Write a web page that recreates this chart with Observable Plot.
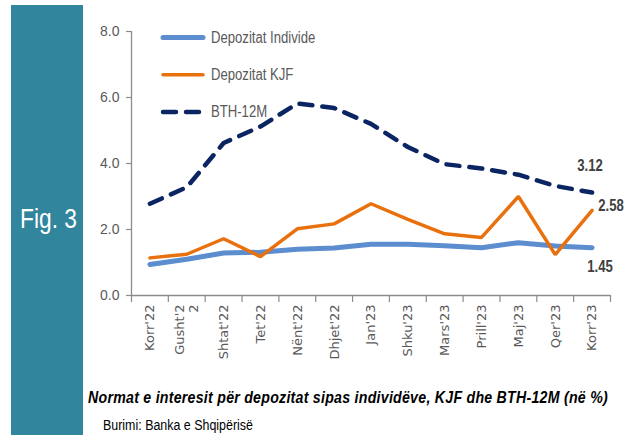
<!DOCTYPE html>
<html><head><meta charset="utf-8">
<script src="https://cdn.jsdelivr.net/npm/d3@7"></script>
<script src="https://cdn.jsdelivr.net/npm/@observablehq/plot@0.6"></script>
<style>
body{margin:0;background:#fff;}
#wrap{position:relative;width:632px;height:435px;overflow:hidden;font-family:"Liberation Sans",Arial,sans-serif;}
#chart{position:absolute;left:0;top:0;}
#panel{position:absolute;left:11px;top:5px;width:72px;height:430px;background:#31859c;}
.fit{position:absolute;white-space:nowrap;transform-origin:0 0;line-height:1;}
#fig{color:#fff;font-size:27px;}
#caption{font-weight:bold;font-style:italic;font-size:16.5px;color:#000;letter-spacing:0.3px;}
#source{font-size:14px;color:#000;}
#legend{position:absolute;left:0;top:0;}
</style></head>
<body>
<div id="wrap">
  <div id="chart"></div>
  <div id="panel"></div>
  <div id="fig" class="fit">Fig. 3</div>
  <div id="caption" class="fit">Normat e interesit për depozitat sipas individëve, KJF dhe BTH-12M (në %)</div>
  <div id="source" class="fit">Burimi: Banka e Shqipërisë</div>
</div>
<script>
const months = ["Korr'22","Gusht'2\n2","Shtat'22","Tet'22","Nënt'22","Dhjet'22","Jan'23","Shku'23","Mars'23","Prill'23","Maj'23","Qer'23","Korr'23"];
const individe = [0.94,1.10,1.29,1.31,1.40,1.44,1.55,1.55,1.51,1.45,1.60,1.50,1.45];
const kjf = [1.14,1.25,1.72,1.18,2.02,2.17,2.78,2.31,1.87,1.76,3.00,1.24,2.58];
const bth = [2.78,3.28,4.62,5.12,5.82,5.68,5.20,4.50,3.98,3.85,3.66,3.32,3.12];
const yTicks = [0,2,4,6,8];
const seriesNames = ["Depozitat Individe","Depozitat KJF","BTH-12M"];
const seriesColors = ["#5b8dcf","#e8710e","#0b2462"];
const endLabels = ["1.45","2.58","3.12"];

const SANS = "'Liberation Sans',Arial,sans-serif";
const seriesVals = [individe, kjf, bth];
const rows = seriesVals.flatMap((vals, s) => vals.map((v, i) => ({i, v, s})));
const idx = months.map((_, i) => i);
const bounds = d3.range(months.length + 1).map(i => i - 0.5);
const last = months.length - 1;
const ends = seriesVals.map((vals, s) => ({i: last, v: vals[last], s, label: endLabels[s]}));

const chart = Plot.plot({
  width: 632, height: 380,
  marginLeft: 131, marginRight: 22, marginTop: 31, marginBottom: 85,
  x: {type: "linear", domain: [-0.5, months.length - 0.5], axis: null},
  y: {domain: [0, 8], axis: null},
  style: {background: "transparent", fontFamily: "'DejaVu Sans',sans-serif", overflow: "visible"},
  marks: [
    Plot.ruleY([0], {stroke: "#8c8c8c", strokeWidth: 1.3}),
    Plot.ruleX([-0.5], {y1: 0, y2: 8, stroke: "#8c8c8c", strokeWidth: 1.3}),
    Plot.axisX(bounds, {tickSize: 7, tickFormat: () => "", label: null, stroke: "#8c8c8c", strokeWidth: 1.2}),
    Plot.axisX(idx, {tickSize: 0, tickPadding: 9, tickRotate: -90, tickFormat: i => months[i], label: null,
      fontSize: 13, fill: "#595959", lineHeight: 1.05}),
    Plot.axisY(yTicks, {tickSize: 5, tickPadding: 7, tickFormat: d => d.toFixed(1), label: null, fontSize: 14,
      fontFamily: SANS, fill: "#595959", stroke: "#8c8c8c", strokeWidth: 1.2}),
    Plot.line(rows.filter(d => d.s === 0), {x: "i", y: "v", stroke: seriesColors[0], strokeWidth: 5, strokeLinecap: "round", strokeLinejoin: "round"}),
    Plot.line(rows.filter(d => d.s === 1), {x: "i", y: "v", stroke: seriesColors[1], strokeWidth: 3.5, strokeLinecap: "round", strokeLinejoin: "miter"}),
    Plot.line(rows.filter(d => d.s === 2), {x: "i", y: "v", stroke: seriesColors[2], strokeWidth: 4.5, strokeDasharray: "13,10", strokeLinecap: "round"}),
    Plot.text(ends.filter(d => d.s === 2), {x: "i", y: "v", text: "label", dx: -2, dy: -27, fontSize: 16, fontWeight: "bold", fontFamily: SANS, fill: "#404040", className: "narrow"}),
    Plot.text(ends.filter(d => d.s === 1), {x: "i", y: "v", text: "label", dx: 19, dy: -4, fontSize: 16, fontWeight: "bold", fontFamily: SANS, fill: "#404040", className: "narrow"}),
    Plot.text(ends.filter(d => d.s === 0), {x: "i", y: "v", text: "label", dx: 8, dy: 19, fontSize: 16, fontWeight: "bold", fontFamily: SANS, fill: "#404040", className: "narrow"})
  ]
});
document.getElementById("chart").appendChild(chart);
// narrow the end labels (Arial Narrow look), keeping Plot's own positioning
d3.select(chart).selectAll(".narrow text").each(function() {
  const t = this.getAttribute("transform") || "";
  this.setAttribute("transform", (t + " scale(0.82,1)").trim());
});

// legend
const leg = d3.select("#wrap").append("svg").attr("id", "legend").attr("width", 632).attr("height", 140);
const styles = [{w: 5, dash: null}, {w: 3.5, dash: null}, {w: 4.5, dash: "13,10"}];
seriesNames.forEach((name, k) => {
  const y = 37.5 + k * 37.2;
  leg.append("line").attr("x1", 163).attr("x2", 203).attr("y1", y).attr("y2", y)
    .attr("stroke", seriesColors[k]).attr("stroke-width", styles[k].w)
    .attr("stroke-linecap", "round").attr("stroke-dasharray", styles[k].dash);
  leg.append("text").attr("x", 211).attr("y", y).attr("dy", "0.35em")
    .attr("font-family", SANS).attr("font-size", 16).attr("fill", "#595959")
    .attr("transform", `translate(211,0) scale(0.82,1) translate(-211,0)`).text(name);
});

// fit HTML texts horizontally (narrow look)
function fit(id, left, top, width) {
  const el = document.getElementById(id);
  el.style.left = left + "px"; el.style.top = top + "px";
  const w = el.getBoundingClientRect().width;
  el.style.transform = `scaleX(${width / w})`;
}
fit("fig", 19.5, 206, 57);
fit("caption", 88, 389, 520);
fit("source", 103, 418, 150);
</script>
</body></html>
